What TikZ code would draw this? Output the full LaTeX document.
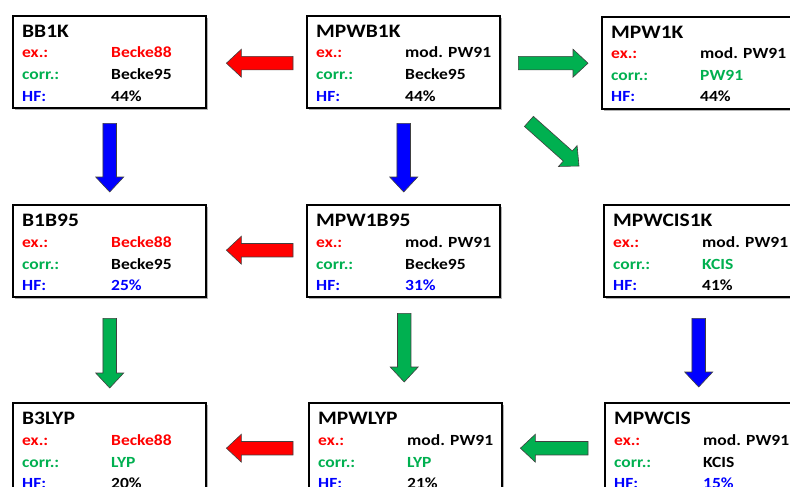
\documentclass[tikz,border=0pt]{standalone}
\usepackage{fontspec}
\setmainfont[FakeStretch=1.13]{Carlito}
\usetikzlibrary{calc,shadows}
\definecolor{exred}{HTML}{FF0000}
\definecolor{corrgreen}{HTML}{00B050}
\definecolor{hfblue}{HTML}{0000FF}
\tikzset{
  dftframe/.style={draw=black, line width=2.4pt, fill=white, minimum width=193pt, minimum height=92pt, inner sep=0pt,
    drop shadow={shadow xshift=1.5pt, shadow yshift=-1.5pt, fill=black, opacity=0.3}},
  txt/.style={anchor=base west, inner sep=0pt, font=\fontsize{15.5}{16}\selectfont\bfseries},
  ttl/.style={anchor=base west, inner sep=0pt, font=\fontsize{19}{20}\selectfont\bfseries},
  blockarrow/.style={draw=black!75, line width=0.6pt, line join=miter}
}
\newcommand\dftbox[6]{%
  \node[dftframe, anchor=north west] (#1) at (#2) {};
  \node[ttl] (#1-t) at ($(#1.north west)+(10,22.5)$) {#3};
  \node[txt, text=exred] (#1-el) at ($(#1.north west)+(10,43)$) {ex.:};
  \node[txt] (#1-ev) at ($(#1.north west)+(99,43)$) {#4};
  \node[txt, text=corrgreen] (#1-cl) at ($(#1.north west)+(10,65)$) {corr.:};
  \node[txt] (#1-cv) at ($(#1.north west)+(99,65)$) {#5};
  \node[txt, text=hfblue] (#1-hl) at ($(#1.north west)+(10,86)$) {HF:};
  \node[txt] (#1-hv) at ($(#1.north west)+(99,86)$) {#6};
}
% #1 name, #2 tail, #3 tip, #4 colour
\newcommand\barrow[4]{%
  \coordinate (#1h) at ($(#3)!15pt!(#2)$);
  \draw[blockarrow, fill=#4]
    ($(#2)!6.75pt!-90:(#3)$) -- ($(#1h)!6.75pt!-90:(#3)$) -- ($(#1h)!14pt!-90:(#3)$) -- (#3)
    -- ($(#1h)!14pt!90:(#3)$) -- ($(#1h)!6.75pt!90:(#3)$) -- ($(#2)!6.75pt!90:(#3)$) -- cycle;
}
\begin{document}
\begin{tikzpicture}[x=1pt, y=-1pt]
  \path[use as bounding box, clip] (0,0) rectangle (790,487);
  \fill[white] (0,0) rectangle (790,487);

  \dftbox{bb1k}{12,15}{BB1K}{\color{exred}Becke88}{Becke95}{44\%}
  \dftbox{mpwb1k}{306,15}{MPWB1K}{mod. PW91}{Becke95}{44\%}
  \dftbox{mpw1k}{601,16}{MPW1K}{mod. PW91}{\color{corrgreen}PW91}{44\%}
  \dftbox{b1b95}{12,204}{B1B95}{\color{exred}Becke88}{Becke95}{\color{hfblue}25\%}
  \dftbox{mpw1b95}{306,204}{MPW1B95}{mod. PW91}{Becke95}{\color{hfblue}31\%}
  \dftbox{mpwcis1k}{603,204}{MPWCIS1K}{mod. PW91}{\color{corrgreen}KCIS}{41\%}
  \dftbox{b3lyp}{12,402}{B3LYP}{\color{exred}Becke88}{\color{corrgreen}LYP}{20\%}
  \dftbox{mpwlyp}{308,402}{MPWLYP}{mod. PW91}{\color{corrgreen}LYP}{21\%}
  \dftbox{mpwcis}{604,402}{MPWCIS}{mod. PW91}{KCIS}{\color{hfblue}15\%}

  % arrow ends
  \coordinate (a1s) at ($(mpwb1k.west)+(-13,1)$);   \coordinate (a1e) at ($(bb1k.east)+(19,1)$);
  \coordinate (a2s) at ($(mpwb1k.east)+(17,1)$);    \coordinate (a2e) at ($(mpw1k.west)+(-13,0)$);
  \coordinate (a3s) at ($(mpwb1k.south east)+(27.5,12)$); \coordinate (a3e) at ($(mpwcis1k.north west)+(-24,-38)$);
  \coordinate (a4s) at ($(bb1k.south)+(0,14)$);     \coordinate (a4e) at ($(a4s |- b1b95.north)+(0,-12)$);
  \coordinate (a5s) at ($(mpwb1k.south)+(0,14)$);   \coordinate (a5e) at ($(a5s |- mpw1b95.north)+(0,-12)$);
  \coordinate (a6s) at ($(mpw1b95.west)+(-13,-1)$); \coordinate (a6e) at ($(b1b95.east)+(19,-1)$);
  \coordinate (a7s) at ($(b1b95.south)+(0,20)$);    \coordinate (a7e) at ($(a7s |- b3lyp.north)+(0,-14)$);
  \coordinate (a8s) at ($(mpw1b95.south)+(0.5,15)$); \coordinate (a8e) at ($(a8s |- mpwlyp.north)+(0,-20)$);
  \coordinate (a9s) at ($(mpwcis1k.south)+(-2,20)$); \coordinate (a9e) at ($(a9s |- mpwcis.north)+(0,-15)$);
  \coordinate (a10s) at ($(mpwlyp.west)+(-15,-1)$); \coordinate (a10e) at ($(b3lyp.east)+(19,-1)$);
  \coordinate (a11s) at ($(mpwcis.west)+(-16,-1)$); \coordinate (a11e) at ($(mpwlyp.east)+(17,-1)$);

  \barrow{ar1}{a1s}{a1e}{exred}
  \barrow{ar2}{a2s}{a2e}{corrgreen}
  \barrow{ar3}{a3s}{a3e}{corrgreen}
  \barrow{ar4}{a4s}{a4e}{hfblue}
  \barrow{ar5}{a5s}{a5e}{hfblue}
  \barrow{ar6}{a6s}{a6e}{exred}
  \barrow{ar7}{a7s}{a7e}{corrgreen}
  \barrow{ar8}{a8s}{a8e}{corrgreen}
  \barrow{ar9}{a9s}{a9e}{hfblue}
  \barrow{ar10}{a10s}{a10e}{exred}
  \barrow{ar11}{a11s}{a11e}{corrgreen}
\end{tikzpicture}
\end{document}
